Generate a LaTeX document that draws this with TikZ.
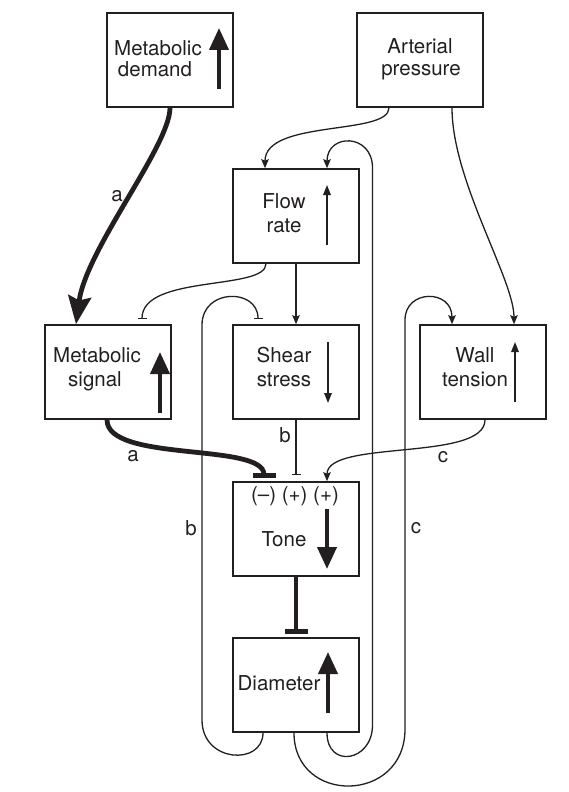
\documentclass[tikz,border=0pt]{standalone}
\usepackage{fontspec}
\setmainfont{TeX Gyre Heros}
\usetikzlibrary{arrows.meta,calc}
\definecolor{ink}{HTML}{231F20}
\begin{document}
\begin{tikzpicture}[x=1pt,y=-1pt,
  every path/.style={color=ink},
  box/.style={draw=ink, line width=1.6pt, minimum width=126pt, minimum height=94pt, inner sep=0pt},
  txt/.style={font=\fontsize{20.5}{24}\selectfont, inner sep=0pt, anchor=base, text=ink},
  lbl/.style={font=\fontsize{20.5}{24}\selectfont, inner sep=0pt, text=ink},
  thinln/.style={line width=1.3pt},
  thickln/.style={line width=4.8pt},
  act/.style={thinln, -{Stealth[length=9pt,width=7.5pt,inset=1.5pt]}},
  inh/.style={thinln, -{Bar[width=9pt]}},
  bigact/.style={thickln, -{Stealth[length=28pt,width=23pt,inset=4pt]}},
  biginh/.style={thickln, -{Bar[width=23pt]}},
  iconbig/.style={line width=4pt, -{Triangle[length=22pt,width=19pt]}},
  iconsmall/.style={line width=1.5pt, -{Triangle[length=10pt,width=7.5pt]}},
]
\useasboundingbox (0,0) rectangle (568,792);

% boxes
\node[box] (MD) at (170,60) {};
\node[box] (AP) at (420,60) {};
\node[box] (FR) at (296,216) {};
\node[box] (MS) at (108,372) {};
\node[box] (SS) at (296,372) {};
\node[box] (WT) at (483,372) {};
\node[box] (TO) at (296,529) {};
\node[box] (DI) at (296,685) {};

% texts
\node[txt] (MD1) at (158,56) {Metabolic};
\node[txt] (MD2) at (155,76) {demand};
\node[txt] (AP1) at (420,53) {Arterial};
\node[txt] (AP2) at (421,75) {pressure};
\node[txt] (FR1) at (284,208) {Flow};
\node[txt] (FR2) at (284,232) {rate};
\node[txt] (MS1) at (97,362) {Metabolic};
\node[txt] (MS2) at (95,386) {signal};
\node[txt] (SS1) at (284,362) {Shear};
\node[txt] (SS2) at (284,386) {stress};
\node[txt] (WT1) at (475,362) {Wall};
\node[txt] (WT2) at (475,386) {tension};
\node[txt] (TOs) at (295,501) {(–) (+) (+)};
\node[txt] (TO1) at (284,546) {Tone};
\node[txt] (DI1) at (279,690) {Diameter};

% icons inside boxes
\draw[iconbig]   ([shift={(49,29)}]MD.center) -- ([shift={(49,-32)}]MD.center);
\draw[iconsmall] ([shift={(31,29)}]FR.center) -- ([shift={(31,-31)}]FR.center);
\draw[iconbig]   ([shift={(52,41)}]MS.center) -- ([shift={(52,-20)}]MS.center);
\draw[iconsmall] ([shift={(32,-30)}]SS.center) -- ([shift={(32,31)}]SS.center);
\draw[iconsmall] ([shift={(32,30)}]WT.center) -- ([shift={(32,-30)}]WT.center);
\draw[iconbig]   ([shift={(31,-20)}]TO.center) -- ([shift={(31,40)}]TO.center);
\draw[iconbig]   ([shift={(32,28)}]DI.center) -- ([shift={(32,-33)}]DI.center);

% connectors
\draw[bigact] (MD.south) .. controls +(0,38) and +(10,-75) .. ([xshift=-32pt]MS.north);
\draw[act] ([xshift=-31pt]AP.south) .. controls +(0,28) and +(0,-49) .. ([xshift=-31pt]FR.north);
\draw[act] ([xshift=32pt]AP.south) .. controls +(0,73) and +(0,-45) .. ([xshift=31pt]WT.north);
\draw[inh] ([xshift=-30pt]FR.south) .. controls +(0,27) and +(0,-45) .. ([xshift=34pt,yshift=5pt]MS.north);
\draw[act] (FR.south) -- (SS.north);
\draw[inh] (SS.south) -- ([yshift=6pt]TO.north);
\draw[biginh] ([xshift=-1pt]MS.south) .. controls +(0,43) and +(0,-36) .. ([xshift=-32pt,yshift=3pt]TO.north);
\draw[act] ([xshift=2pt]WT.south) .. controls +(0,42) and +(0,-42) .. ([xshift=31pt]TO.north);
\draw[biginh] (TO.south) -- ([yshift=3pt]DI.north);

% feedback loops
\draw[inh] ([xshift=-33pt]DI.south) .. controls +(0,33) and +(0,43) .. (202,720) -- (202,325)
  .. controls (202,288) and (258,288) .. ([xshift=-38pt,yshift=5pt]SS.north);
\draw[act] ([xshift=31pt]DI.south) .. controls +(0,36) and +(0,37) .. (372.5,725) -- (372.5,168)
  .. controls (372.5,133) and (327,133) .. ([xshift=31pt]FR.north);
\draw[act] ([xshift=-2pt]DI.south) .. controls +(0,72) and +(0,75) .. (405,729) -- (405,320)
  .. controls (405,289) and (452,289) .. ([xshift=-31pt]WT.north);

% labels
\node[lbl] (la1) at (117,196) {a};
\node[lbl] (la2) at (133,456) {a};
\node[lbl] (lb1) at (285,435) {b};
\node[lbl] (lb2) at (191,528) {b};
\node[lbl] (lc1) at (443,457) {c};
\node[lbl] (lc2) at (416,528) {c};
\end{tikzpicture}
\end{document}
